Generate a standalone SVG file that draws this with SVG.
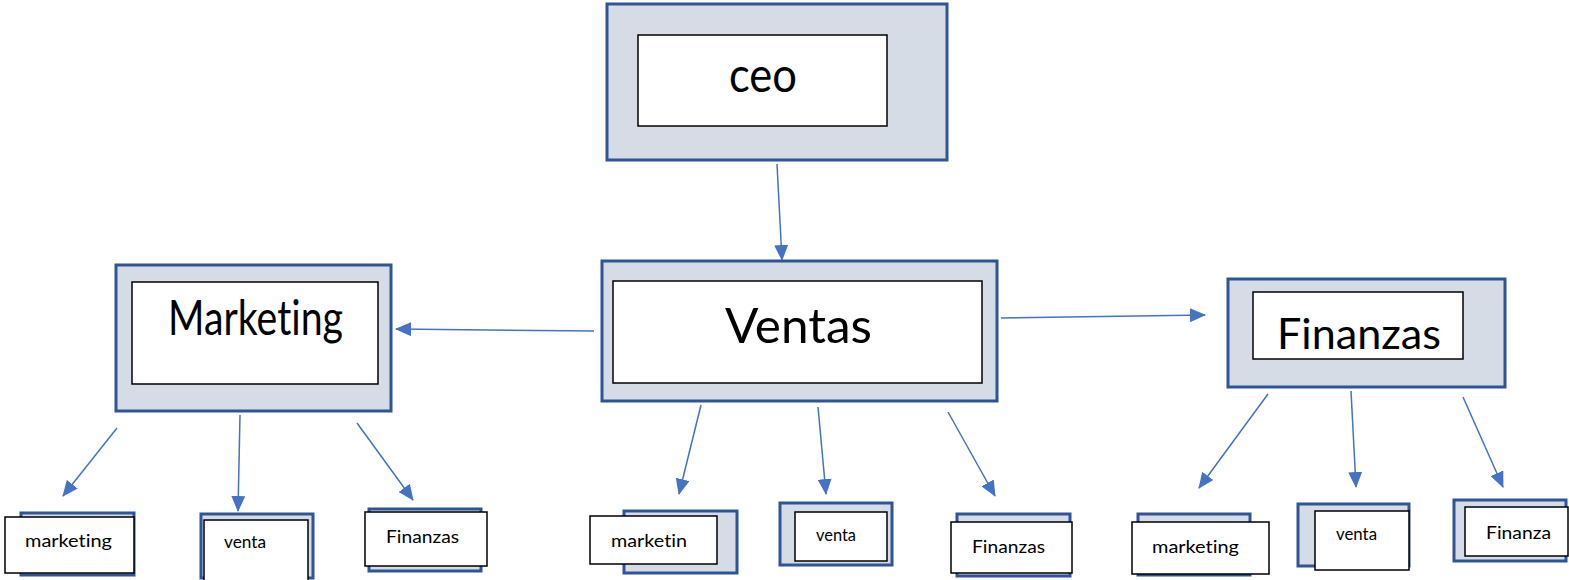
<svg xmlns="http://www.w3.org/2000/svg" width="1569" height="580" viewBox="0 0 1569 580">
<style>
.outer{fill:#D6DCE5;stroke:#2F5597;stroke-width:3}
.inner{fill:#FFFFFF;stroke:#000000;stroke-width:1.5}
text{font-variant-ligatures:none;font-feature-settings:"liga" 0}
.big{font-family:Lato,"Liberation Sans",sans-serif;fill:#000;text-anchor:start}
.small{font-family:Lato,"Liberation Sans",sans-serif;font-size:18px;fill:#000}
.conn line{stroke:#4472C4;stroke-width:1.5;fill:none;marker-end:url(#ah)}
</style>
<defs>
<marker id="ah" markerUnits="userSpaceOnUse" viewBox="0 0 16 14" refX="15" refY="7" markerWidth="16" markerHeight="14" orient="auto">
<path d="M0,0 L16,7 L0,14 Z" fill="#4472C4"/>
</marker>
</defs>
<rect width="1569" height="580" fill="#FFFFFF"/>
<g id="ceo">
<rect class="outer" x="607" y="4" width="340" height="156"/>
<rect class="inner" x="638" y="35" width="249" height="91"/>
<text class="big" x="729" y="92" font-size="48" textLength="68" lengthAdjust="spacingAndGlyphs">ceo</text>
</g>
<g id="ventas">
<rect class="outer" x="602" y="261" width="395" height="140"/>
<rect class="inner" x="613" y="281" width="369" height="102"/>
<text class="big" x="725" y="343" font-size="49" textLength="147" lengthAdjust="spacingAndGlyphs">Ventas</text>
</g>
<g id="marketing">
<rect class="outer" x="116" y="265" width="275" height="146"/>
<rect class="inner" x="132" y="282" width="246" height="102"/>
<text class="big" x="168" y="335" font-size="48" textLength="175" lengthAdjust="spacingAndGlyphs">Marketing</text>
</g>
<g id="finanzas">
<rect class="outer" x="1228" y="279" width="277" height="108"/>
<rect class="inner" x="1253" y="292" width="210" height="67"/>
<text class="big" x="1277" y="349" font-size="43" textLength="164" lengthAdjust="spacingAndGlyphs">Finanzas</text>
</g>
<g id="m-marketing">
<rect class="outer" x="21" y="513" width="113" height="62"/>
<rect class="inner" x="5" y="517" width="129" height="56"/>
<text class="small" x="25" y="547" textLength="87" lengthAdjust="spacingAndGlyphs">marketing</text>
</g>
<g id="m-venta">
<rect class="outer" x="201" y="514" width="112" height="64"/>
<rect class="inner" x="204" y="520" width="104" height="62"/>
<text class="small" x="224" y="548" font-size="16" textLength="42" lengthAdjust="spacingAndGlyphs">venta</text>
</g>
<g id="m-finanzas">
<rect class="outer" x="369" y="509" width="112" height="62"/>
<rect class="inner" x="365" y="512" width="122" height="54"/>
<text class="small" x="386" y="543" textLength="73" lengthAdjust="spacingAndGlyphs">Finanzas</text>
</g>
<g id="v-marketin">
<rect class="outer" x="624" y="511" width="113" height="62"/>
<rect class="inner" x="590" y="516" width="127" height="48"/>
<text class="small" x="611" y="547" textLength="76" lengthAdjust="spacingAndGlyphs">marketin</text>
</g>
<g id="v-venta">
<rect class="outer" x="780" y="503" width="112" height="62"/>
<rect class="inner" x="795" y="512" width="92" height="49"/>
<text class="small" x="816" y="541" font-size="16" textLength="40" lengthAdjust="spacingAndGlyphs">venta</text>
</g>
<g id="v-finanzas">
<rect class="outer" x="957" y="514" width="113" height="62"/>
<rect class="inner" x="951" y="522" width="121" height="51"/>
<text class="small" x="972" y="553" textLength="73" lengthAdjust="spacingAndGlyphs">Finanzas</text>
</g>
<g id="f-marketing">
<rect class="outer" x="1138" y="514" width="112" height="61"/>
<rect class="inner" x="1132" y="522" width="137" height="52"/>
<text class="small" x="1152" y="553" textLength="87" lengthAdjust="spacingAndGlyphs">marketing</text>
</g>
<g id="f-venta">
<rect class="outer" x="1298" y="504" width="111" height="62"/>
<rect class="inner" x="1315" y="511" width="94" height="59"/>
<text class="small" x="1336" y="540" font-size="16" textLength="41" lengthAdjust="spacingAndGlyphs">venta</text>
</g>
<g id="f-finanza">
<rect class="outer" x="1454" y="500" width="112" height="61"/>
<rect class="inner" x="1465" y="507" width="103" height="49"/>
<text class="small" x="1486" y="539" textLength="65" lengthAdjust="spacingAndGlyphs">Finanza</text>
</g>
<g id="connectors" class="conn">
<line x1="777" y1="164" x2="782" y2="260"/>
<line x1="594" y1="331" x2="396" y2="329"/>
<line x1="1001" y1="318" x2="1205" y2="315"/>
<line x1="117" y1="428" x2="63" y2="496"/>
<line x1="240" y1="415" x2="238" y2="511"/>
<line x1="357" y1="423" x2="413" y2="500"/>
<line x1="701" y1="405" x2="679" y2="494"/>
<line x1="818" y1="407" x2="826" y2="494"/>
<line x1="948" y1="412" x2="995" y2="496"/>
<line x1="1268" y1="394" x2="1199" y2="488"/>
<line x1="1351" y1="391" x2="1356" y2="487"/>
<line x1="1463" y1="397" x2="1503" y2="487"/>
</g>
</svg>
